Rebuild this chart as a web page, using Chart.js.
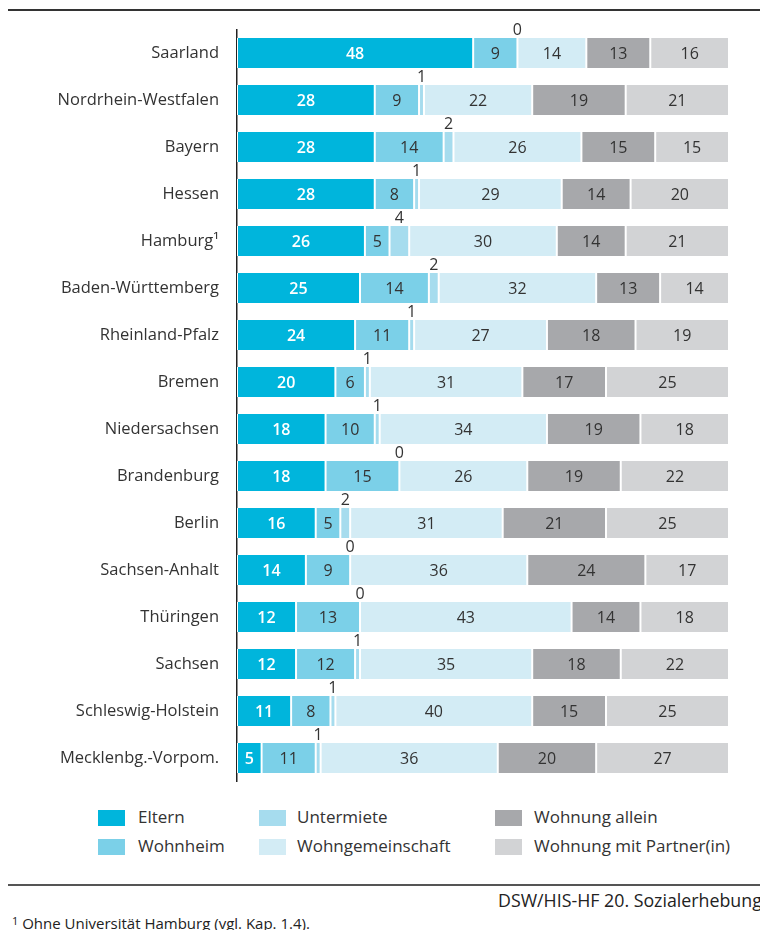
<!DOCTYPE html>
<html>
<head>
<meta charset="utf-8">
<script src="https://cdn.jsdelivr.net/npm/chart.js@4/dist/chart.umd.min.js"></script>
<style>
  html, body { margin: 0; padding: 0; background: #fff; }
  body { width: 760px; height: 930px; position: relative; overflow: hidden; font-family: "Open Sans", sans-serif; color: #333; }
  #topRule { position: absolute; left: 8px; top: 9px; width: 752px; height: 0; border-top: 2px solid #333; }
  #wrap { position: absolute; left: 0; top: 0; width: 760px; height: 800px; }
  #legend { position: absolute; left: 0; top: 803px; width: 760px; height: 60px; }
  .li { position: absolute; font-size: 17px; line-height: 20px; white-space: nowrap; color: #333; }
  .sw { position: absolute; width: 27px; height: 16px; }
  #botRule { position: absolute; left: 8px; top: 884px; width: 752px; height: 0; border-top: 2px solid #555; }
  #source { position: absolute; left: 498px; top: 889px; font-size: 17.8px; line-height: 22px; white-space: nowrap; color: #222; }
  #foot { position: absolute; left: 12px; top: 913px; font-size: 15px; line-height: 20px; white-space: nowrap; color: #222; }
</style>
</head>
<body>
<div id="topRule"></div>
<div id="wrap"><canvas id="c" width="760" height="800"></canvas></div>
<div id="legend"></div>
<div id="botRule"></div>
<div id="source">DSW/HIS-HF 20. Sozialerhebung</div>
<div id="foot"><span style="font-size:11px;position:relative;top:-4px">1</span> Ohne Universität Hamburg (vgl. Kap. 1.4).</div>
<script>
const categories = ["Saarland","Nordrhein-Westfalen","Bayern","Hessen","Hamburg\u00B9","Baden-Württemberg","Rheinland-Pfalz","Bremen","Niedersachsen","Brandenburg","Berlin","Sachsen-Anhalt","Thüringen","Sachsen","Schleswig-Holstein","Mecklenbg.-Vorpom."];
const seriesNames = ["Eltern","Wohnheim","Untermiete","Wohngemeinschaft","Wohnung allein","Wohnung mit Partner(in)"];
const eltern          = [48,28,28,28,26,25,24,20,18,18,16,14,12,12,11,5];
const wohnheim        = [9,9,14,8,5,14,11,6,10,15,5,9,13,12,8,11];
const untermiete      = [0,1,2,1,4,2,1,1,1,0,2,0,0,1,1,1];
const wohngemeinschaft= [14,22,26,29,30,32,27,31,34,26,31,36,43,35,40,36];
const wohnungAllein   = [13,19,15,14,14,13,18,17,19,19,21,24,14,18,15,20];
const wohnungPartner  = [16,21,15,20,21,14,19,25,18,22,25,17,18,22,25,27];
const colors = ["#00b5dc","#7bd0e8","#a6dcee","#d3ecf5","#a7a8ab","#d2d3d5"];
const seriesData = [eltern,wohnheim,untermiete,wohngemeinschaft,wohnungAllein,wohnungPartner];

const FONT = '"Open Sans", sans-serif';

const labelPlugin = {
  id: 'segLabels',
  afterDatasetsDraw(chart) {
    const ctx = chart.ctx;
    ctx.save();
    ctx.textAlign = 'center';
    ctx.textBaseline = 'middle';
    chart.data.datasets.forEach((ds, di) => {
      const meta = chart.getDatasetMeta(di);
      meta.data.forEach((bar, i) => {
        const v = ds.data[i];
        const x = (bar.x + bar.base) / 2;
        if (di === 2) {
          ctx.font = '16px ' + FONT;
          ctx.fillStyle = '#333';
          ctx.fillText(String(v), x, bar.y - bar.height / 2 - 8);
        } else {
          ctx.fillStyle = di === 0 ? '#ffffff' : '#333';
          ctx.font = (di === 0 ? '600 16px ' : '16px ') + FONT;
          ctx.fillText(String(v), x, bar.y + 1);
        }
      });
    });
    ctx.restore();
  }
};

new Chart(document.getElementById('c'), {
  type: 'bar',
  data: {
    labels: categories,
    datasets: seriesNames.map((n, k) => ({
      label: n,
      data: seriesData[k],
      backgroundColor: colors[k],
      borderColor: '#ffffff',
      borderWidth: {left: 1, right: 1, top: 0, bottom: 0},
      borderSkipped: false,
      barPercentage: 0.64,
      categoryPercentage: 1.0
    }))
  },
  options: {
    indexAxis: 'y',
    responsive: false,
    animation: false,
    devicePixelRatio: 1,
    layout: { padding: { top: 29.5, bottom: 18.5, left: 0, right: 31 } },
    plugins: { legend: { display: false }, tooltip: { enabled: false } },
    scales: {
      x: { stacked: true, min: 0, max: 100, display: false },
      y: {
        stacked: true,
        grid: { display: false, drawTicks: false },
        border: { display: true, color: '#222', width: 1.5 },
        ticks: { color: '#333', font: { family: FONT, size: 16.5 }, padding: 18 },
        afterFit(scale) { scale.width = 237; scale.paddingTop = 0; scale.paddingBottom = 0; }
      }
    }
  },
  plugins: [labelPlugin]
});

// HTML legend (3 columns, column-major)
const legendPos = [
  {sx: 98, tx: 138, y: 0}, {sx: 98, tx: 138, y: 29},
  {sx: 259, tx: 297, y: 0}, {sx: 259, tx: 297, y: 29},
  {sx: 495, tx: 534, y: 0}, {sx: 495, tx: 534, y: 29}
];
const lg = document.getElementById('legend');
seriesNames.forEach((n, k) => {
  const p = legendPos[k];
  const s = document.createElement('div');
  s.className = 'sw'; s.style.left = p.sx + 'px'; s.style.top = (p.y + 7) + 'px'; s.style.background = colors[k];
  lg.appendChild(s);
  const t = document.createElement('div');
  t.className = 'li'; t.style.left = p.tx + 'px'; t.style.top = (p.y + 4) + 'px'; t.textContent = n;
  lg.appendChild(t);
});
</script>
</body>
</html>
